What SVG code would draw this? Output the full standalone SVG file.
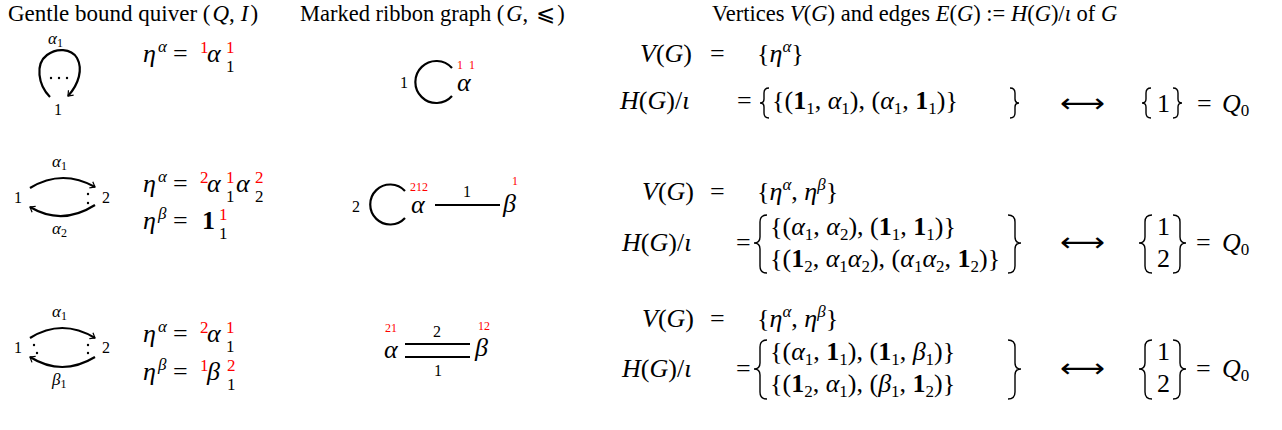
<svg xmlns="http://www.w3.org/2000/svg" width="1282" height="430" viewBox="0 0 1282 430">
<style>
.t{font-family:"Liberation Serif","DejaVu Serif",serif;fill:#000}
.hd{font-size:22.5px}
.m{font-size:26px}
.i{font-style:italic}
.b{font-weight:bold}
.sb{font-size:17px}
.r{fill:#ff0000}
.rs{font-size:12px;fill:#ff0000}
.lab{font-size:16px}
.ql{font-size:17px}
.qs{font-size:12px}
.ed{fill:none;stroke:#000;stroke-width:2.2}
.br{fill:none;stroke:#000;stroke-width:1.4}
.dot{fill:#000}
.arw{font-family:"DejaVu Sans",sans-serif;font-size:26px}
</style>
<defs>
<marker id="ah" markerWidth="10" markerHeight="10" refX="0" refY="0" viewBox="-6 -5 8 10" orient="auto" markerUnits="userSpaceOnUse">
<path d="M-4.5,-3.5 L0,0 L-4.5,3.5" fill="none" stroke="#000" stroke-width="1.2"/>
</marker>
</defs>
<rect width="1282" height="430" fill="#fff"/>

<g id="headers">
<text class="t" font-size="23" x="8" y="21">Gentle bound quiver (<tspan class="i" dx="2">Q</tspan>,<tspan class="i" dx="6">I</tspan><tspan dx="2">)</tspan></text>
<text class="t hd" x="300" y="21">Marked ribbon graph (<tspan class="i" dx="2">G</tspan>,<tspan dx="8">⩽</tspan><tspan dx="2">)</tspan></text>
<text class="t hd" x="712" y="21">Vertices <tspan class="i">V</tspan>(<tspan class="i">G</tspan>) and edges <tspan class="i">E</tspan>(<tspan class="i">G</tspan>) := <tspan class="i">H</tspan>(<tspan class="i">G</tspan>)/<tspan class="i">ι</tspan> of <tspan class="i">G</tspan></text>
</g>

<g id="connectors">
<path class="ed" d="M50,97 C38,85 35,64 47,55 C56,48 71,48 77,58 C83,69 79,84 68,96" marker-end="url(#ah)"/>
<path class="ed" d="M30,188 Q62,168.5 95,187" marker-end="url(#ah)"/>
<path class="ed" d="M95,205 Q62,226 30,207" marker-end="url(#ah)"/>
<path class="ed" d="M30,338 Q62,318 95,338" marker-end="url(#ah)"/>
<path class="ed" d="M95,357 Q62,377 30,357" marker-end="url(#ah)"/>
<path class="ed" d="M452,68 A21,21 0 1 0 452,96"/>
<path class="ed" d="M405,191 A20,20 0 1 0 405,218"/>
<path class="ed" d="M435,205 L500,205"/>
<path class="ed" d="M405,344 L470,344"/>
<path class="ed" d="M405,357 L470,357"/>
</g>

<g id="quiver1">
<text class="t ql i" x="48" y="44">α<tspan class="qs" font-style="normal" dy="3">1</tspan></text>
<circle class="dot" cx="51" cy="78" r="1.2"/><circle class="dot" cx="59" cy="78" r="1.2"/><circle class="dot" cx="67" cy="78" r="1.2"/>
<text class="t lab" x="54" y="115">1</text>
</g>
<g id="quiver2">
<text class="t lab" x="14" y="203">1</text>
<text class="t lab" x="102" y="203">2</text>
<text class="t ql i" x="52" y="167">α<tspan class="qs" font-style="normal" dy="3">1</tspan></text>
<text class="t ql i" x="52" y="234">α<tspan class="qs" font-style="normal" dy="3">2</tspan></text>
<circle class="dot" cx="88" cy="194" r="1.2"/><circle class="dot" cx="88" cy="203" r="1.2"/>
</g>
<g id="quiver3">
<text class="t lab" x="14" y="353">1</text>
<text class="t lab" x="102" y="353">2</text>
<text class="t ql i" x="52" y="317">α<tspan class="qs" font-style="normal" dy="3">1</tspan></text>
<text class="t ql i" x="52" y="385">β<tspan class="qs" font-style="normal" dy="3">1</tspan></text>
<circle class="dot" cx="34" cy="345" r="1.2"/><circle class="dot" cx="37" cy="353" r="1.2"/>
<circle class="dot" cx="88" cy="345" r="1.2"/><circle class="dot" cx="88" cy="353" r="1.2"/>
</g>

<g id="eta1">
<text class="t m"><tspan class="i" x="143" y="62">η</tspan><tspan class="i sb" x="158" y="52">α</tspan><tspan x="173" y="62">=</tspan><tspan class="r sb" x="200" y="53">1</tspan><tspan class="i" x="207" y="62">α</tspan><tspan class="r sb" x="226" y="53">1</tspan><tspan class="sb" x="226" y="72">1</tspan></text>
</g>
<g id="eta2">
<text class="t m"><tspan class="i" x="143" y="192">η</tspan><tspan class="i sb" x="158" y="182">α</tspan><tspan x="173" y="192">=</tspan><tspan class="r sb" x="200" y="183">2</tspan><tspan class="i" x="207" y="192">α</tspan><tspan class="r sb" x="226" y="183">1</tspan><tspan class="sb" x="226" y="202">1</tspan><tspan class="i" x="236" y="192">α</tspan><tspan class="r sb" x="255" y="183">2</tspan><tspan class="sb" x="255" y="202">2</tspan></text>
<text class="t m"><tspan class="i" x="143" y="229">η</tspan><tspan class="i sb" x="158" y="219">β</tspan><tspan x="173" y="229">=</tspan><tspan class="b" x="202" y="229">1</tspan><tspan class="r sb" x="219" y="220">1</tspan><tspan class="sb" x="219" y="239">1</tspan></text>
</g>
<g id="eta3">
<text class="t m"><tspan class="i" x="143" y="342">η</tspan><tspan class="i sb" x="158" y="332">α</tspan><tspan x="173" y="342">=</tspan><tspan class="r sb" x="200" y="333">2</tspan><tspan class="i" x="207" y="342">α</tspan><tspan class="r sb" x="226" y="333">1</tspan><tspan class="sb" x="226" y="352">1</tspan></text>
<text class="t m"><tspan class="i" x="143" y="380">η</tspan><tspan class="i sb" x="158" y="370">β</tspan><tspan x="173" y="380">=</tspan><tspan class="r sb" x="200" y="371">1</tspan><tspan class="i" x="207" y="380">β</tspan><tspan class="r sb" x="227" y="371">2</tspan><tspan class="sb" x="227" y="390">1</tspan></text>
</g>

<g id="ribbon1">
<text class="t lab" x="400" y="88">1</text>
<text class="t m i" x="457" y="91">α</text>
<text class="t rs" x="457" y="69">1</text><text class="t rs" x="469" y="69">1</text>
</g>
<g id="ribbon2">
<text class="t lab" x="352" y="212">2</text>
<text class="t m i" x="411" y="213">α</text>
<text class="t rs" x="410" y="191">212</text>
<text class="t lab" x="463" y="197">1</text>
<text class="t m i" x="503" y="212">β</text>
<text class="t rs" x="512" y="185">1</text>
</g>
<g id="ribbon3">
<text class="t m i" x="384" y="358">α</text>
<text class="t rs" x="385" y="332">21</text>
<text class="t lab" x="433" y="337">2</text>
<text class="t lab" x="434" y="376">1</text>
<text class="t m i" x="475" y="356">β</text>
<text class="t rs" x="478" y="330">12</text>
</g>

<g id="sets1">
<text class="t m" x="640" y="62"><tspan class="i">V</tspan>(<tspan class="i">G</tspan>)<tspan x="710">=</tspan></text>
<text class="t m" x="757" y="62">{<tspan class="i">η</tspan><tspan class="i sb" dy="-10">α</tspan><tspan dy="10">}</tspan></text>
<text class="t m" x="620" y="109"><tspan class="i">H</tspan>(<tspan class="i">G</tspan>)/<tspan class="i">ι</tspan><tspan x="737">=</tspan></text>
<path class="br" d="M769,88 Q764,88 764,93 L764,99 Q764,103 760,103 Q764,103 764,107 L764,113 Q764,118 769,118"/>
<text class="t m" x="772" y="109">{(<tspan class="b">1</tspan><tspan class="sb" dy="5">1</tspan><tspan dy="-5">, </tspan><tspan class="i">α</tspan><tspan class="sb" dy="5">1</tspan><tspan dy="-5">), (</tspan><tspan class="i">α</tspan><tspan class="sb" dy="5">1</tspan><tspan dy="-5">, </tspan><tspan class="b">1</tspan><tspan class="sb" dy="5">1</tspan><tspan dy="-5">)}</tspan></text>
<path class="br" d="M1010,88 Q1015,88 1015,93 L1015,99 Q1015,103 1019,103 Q1015,103 1015,107 L1015,113 Q1015,118 1010,118"/>
<text class="t arw" x="1060" y="112" textLength="45" lengthAdjust="spacingAndGlyphs">⟷</text>
<path class="br" d="M1151,88 Q1146,88 1146,93 L1146,99 Q1146,103 1142,103 Q1146,103 1146,107 L1146,113 Q1146,118 1151,118"/>
<text class="t m" x="1157" y="112">1</text>
<path class="br" d="M1173,88 Q1178,88 1178,93 L1178,99 Q1178,103 1182,103 Q1178,103 1178,107 L1178,113 Q1178,118 1173,118"/>
<text class="t m" y="112"><tspan x="1197">=</tspan><tspan class="i" x="1222">Q</tspan><tspan class="sb" dy="4">0</tspan></text>
</g>

<g id="sets2">
<text class="t m" x="642" y="200"><tspan class="i">V</tspan>(<tspan class="i">G</tspan>)<tspan x="710">=</tspan></text>
<text class="t m" x="757" y="200">{<tspan class="i">η</tspan><tspan class="i sb" dy="-10">α</tspan><tspan dy="10">, </tspan><tspan class="i">η</tspan><tspan class="i sb" dy="-10">β</tspan><tspan dy="10">}</tspan></text>
<text class="t m" x="622" y="251"><tspan class="i">H</tspan>(<tspan class="i">G</tspan>)/<tspan class="i">ι</tspan><tspan x="736">=</tspan></text>
<path class="br" d="M767,215 Q760,215 760,222 L760,237 Q760,243 754,243 Q760,243 760,249 L760,266 Q760,273 767,273"/>
<text class="t m" x="770" y="235">{(<tspan class="i">α</tspan><tspan class="sb" dy="5">1</tspan><tspan dy="-5">, </tspan><tspan class="i">α</tspan><tspan class="sb" dy="5">2</tspan><tspan dy="-5">), (</tspan><tspan class="b">1</tspan><tspan class="sb" dy="5">1</tspan><tspan dy="-5">, </tspan><tspan class="b">1</tspan><tspan class="sb" dy="5">1</tspan><tspan dy="-5">)}</tspan></text>
<text class="t m" x="770" y="267">{(<tspan class="b">1</tspan><tspan class="sb" dy="5">2</tspan><tspan dy="-5">, </tspan><tspan class="i">α</tspan><tspan class="sb" dy="5">1</tspan><tspan class="i" dy="-5">α</tspan><tspan class="sb" dy="5">2</tspan><tspan dy="-5">), (</tspan><tspan class="i">α</tspan><tspan class="sb" dy="5">1</tspan><tspan class="i" dy="-5">α</tspan><tspan class="sb" dy="5">2</tspan><tspan dy="-5">, </tspan><tspan class="b">1</tspan><tspan class="sb" dy="5">2</tspan><tspan dy="-5">)}</tspan></text>
<path class="br" d="M1008,215 Q1015,215 1015,222 L1015,237 Q1015,243 1021,243 Q1015,243 1015,249 L1015,266 Q1015,273 1008,273"/>
<text class="t arw" x="1060" y="251" textLength="45" lengthAdjust="spacingAndGlyphs">⟷</text>
<path class="br" d="M1152,215 Q1145,215 1145,222 L1145,237 Q1145,243 1139,243 Q1145,243 1145,249 L1145,266 Q1145,273 1152,273"/>
<text class="t m" x="1157" y="235">1</text>
<text class="t m" x="1157" y="267">2</text>
<path class="br" d="M1173,215 Q1180,215 1180,222 L1180,237 Q1180,243 1186,243 Q1180,243 1180,249 L1180,266 Q1180,273 1173,273"/>
<text class="t m" y="251"><tspan x="1196">=</tspan><tspan class="i" x="1222">Q</tspan><tspan class="sb" dy="4">0</tspan></text>
</g>

<g id="sets3">
<text class="t m" x="642" y="327"><tspan class="i">V</tspan>(<tspan class="i">G</tspan>)<tspan x="710">=</tspan></text>
<text class="t m" x="757" y="327">{<tspan class="i">η</tspan><tspan class="i sb" dy="-10">α</tspan><tspan dy="10">, </tspan><tspan class="i">η</tspan><tspan class="i sb" dy="-10">β</tspan><tspan dy="10">}</tspan></text>
<text class="t m" x="622" y="377"><tspan class="i">H</tspan>(<tspan class="i">G</tspan>)/<tspan class="i">ι</tspan><tspan x="736">=</tspan></text>
<path class="br" d="M767,340 Q760,340 760,347 L760,363 Q760,369 754,369 Q760,369 760,375 L760,392 Q760,399 767,399"/>
<text class="t m" x="770" y="360">{(<tspan class="i">α</tspan><tspan class="sb" dy="5">1</tspan><tspan dy="-5">, </tspan><tspan class="b">1</tspan><tspan class="sb" dy="5">1</tspan><tspan dy="-5">), (</tspan><tspan class="b">1</tspan><tspan class="sb" dy="5">1</tspan><tspan dy="-5">, </tspan><tspan class="i">β</tspan><tspan class="sb" dy="5">1</tspan><tspan dy="-5">)}</tspan></text>
<text class="t m" x="770" y="392">{(<tspan class="b">1</tspan><tspan class="sb" dy="5">2</tspan><tspan dy="-5">, </tspan><tspan class="i">α</tspan><tspan class="sb" dy="5">1</tspan><tspan dy="-5">), (</tspan><tspan class="i">β</tspan><tspan class="sb" dy="5">1</tspan><tspan dy="-5">, </tspan><tspan class="b">1</tspan><tspan class="sb" dy="5">2</tspan><tspan dy="-5">)}</tspan></text>
<path class="br" d="M1008,340 Q1015,340 1015,347 L1015,363 Q1015,369 1021,369 Q1015,369 1015,375 L1015,392 Q1015,399 1008,399"/>
<text class="t arw" x="1060" y="377" textLength="45" lengthAdjust="spacingAndGlyphs">⟷</text>
<path class="br" d="M1152,340 Q1145,340 1145,347 L1145,363 Q1145,369 1139,369 Q1145,369 1145,375 L1145,392 Q1145,399 1152,399"/>
<text class="t m" x="1157" y="360">1</text>
<text class="t m" x="1157" y="392">2</text>
<path class="br" d="M1173,340 Q1180,340 1180,347 L1180,363 Q1180,369 1186,369 Q1180,369 1180,375 L1180,392 Q1180,399 1173,399"/>
<text class="t m" y="377"><tspan x="1196">=</tspan><tspan class="i" x="1222">Q</tspan><tspan class="sb" dy="4">0</tspan></text>
</g>
</svg>
